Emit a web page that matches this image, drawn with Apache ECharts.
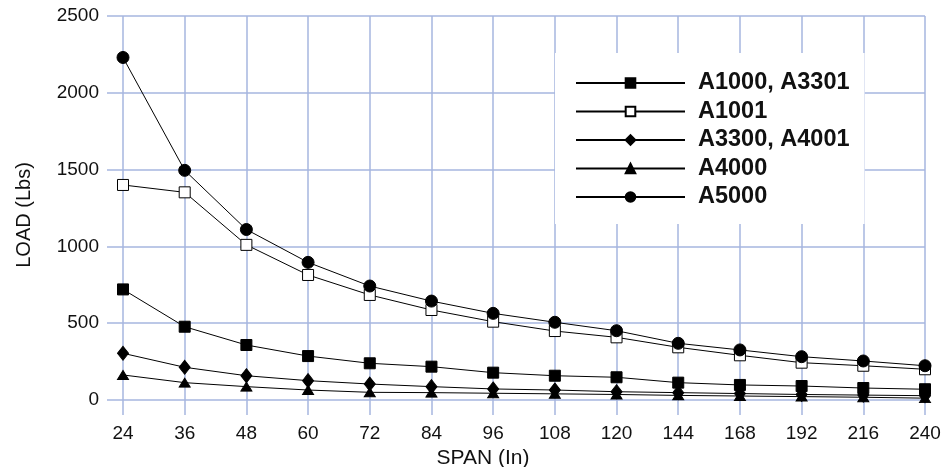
<!DOCTYPE html>
<html>
<head>
<meta charset="utf-8">
<script src="https://cdn.jsdelivr.net/npm/echarts@6/dist/echarts.min.js"></script>
<style>
html,body{margin:0;padding:0;background:#fff;}
#chart{width:947px;height:467px;}
</style>
</head>
<body>
<div id="chart"></div>
<script>
const spans = ['24','36','48','60','72','84','96','108','120','144','168','192','216','240'];
const seriesNames = ['A1000, A3301','A1001','A3300, A4001','A4000','A5000'];
const a1000 = [720, 477, 358, 286, 239, 217, 178, 158, 148, 113, 98, 91, 78, 70];
const a1001 = [1400, 1352, 1010, 814, 684, 586, 510, 449, 408, 343, 291, 243, 223, 200];
const a3300 = [304, 213, 158, 126, 104, 87, 72, 65, 54, 48, 42, 36, 32, 28];
const a4000 = [163, 113, 87, 65, 50, 48, 44, 40, 36, 30, 26, 22, 18, 12];
const a5000 = [2230, 1495, 1110, 896, 742, 644, 564, 506, 451, 369, 326, 282, 254, 223];
const yTicks = [0, 500, 1000, 1500, 2000, 2500];

const FONT = '"Liberation Sans", Arial, Helvetica, sans-serif';
const GRID = '#a6b6df';

const chart = echarts.init(document.getElementById('chart'), null, {renderer: 'canvas'});

function mk(name, data, symbol, size, fill) {
  return {
    name: name,
    type: 'line',
    data: data,
    symbol: symbol,
    symbolSize: size,
    showAllSymbol: true,
    lineStyle: {color: '#000', width: 1},
    itemStyle: {color: fill, borderColor: '#000', borderWidth: 1},
    emphasis: {disabled: true},
    animation: false,
    z: 3
  };
}

chart.setOption({
  animation: false,
  backgroundColor: '#fff',
  textStyle: {fontFamily: FONT},
  grid: {left: 123, right: 22, top: 16, bottom: 67, containLabel: false, outerBoundsMode: 'none'},
  xAxis: {
    type: 'category',
    data: spans,
    boundaryGap: false,
    name: 'SPAN (In)',
    nameLocation: 'middle',
    nameGap: 46,
    nameTextStyle: {fontSize: 21, color: '#111', fontFamily: FONT, padding: [0, 82, 0, 0]},
    axisLine: {show: false},
    axisTick: {show: true, length: 15, lineStyle: {color: GRID, width: 1.5}},
    axisLabel: {fontSize: 19, color: '#111', margin: 24, fontFamily: FONT, interval: 0},
    splitLine: {show: true, lineStyle: {color: GRID, width: 1.5}}
  },
  yAxis: {
    type: 'value',
    min: yTicks[0],
    max: yTicks[yTicks.length - 1],
    interval: 500,
    name: 'LOAD (Lbs)',
    nameLocation: 'middle',
    nameGap: 89,
    nameTextStyle: {fontSize: 20, color: '#111', fontFamily: FONT, padding: [0, 14, 0, 0]},
    axisLine: {show: false},
    axisTick: {show: true, length: 16, lineStyle: {color: GRID, width: 1.5}},
    axisLabel: {fontSize: 19, color: '#111', margin: 24, fontFamily: FONT, formatter: function (v) { return String(v); }},
    splitLine: {show: true, lineStyle: {color: GRID, width: 1.5}}
  },
  legend: {
    orient: 'vertical',
    left: 555,
    top: 53,
    align: 'left',
    backgroundColor: '#fff',
    padding: [18, 15, 15, 20],
    itemWidth: 109,
    itemHeight: 12,
    itemGap: 4.5,
    data: seriesNames,
    textStyle: {fontSize: 23.5, fontWeight: 'bold', color: '#111', fontFamily: FONT, lineHeight: 24, padding: [0, 0, 0, 8]},
    selectedMode: false,
    z: 5
  },
  series: [
    mk(seriesNames[0], a1000, 'rect', 11, '#000'),
    mk(seriesNames[1], a1001, 'rect', 11, '#fff'),
    mk(seriesNames[2], a3300, 'diamond', [11, 14], '#000'),
    mk(seriesNames[3], a4000, 'triangle', [11, 9], '#000'),
    mk(seriesNames[4], a5000, 'circle', 12, '#000')
  ]
});
</script>
</body>
</html>
